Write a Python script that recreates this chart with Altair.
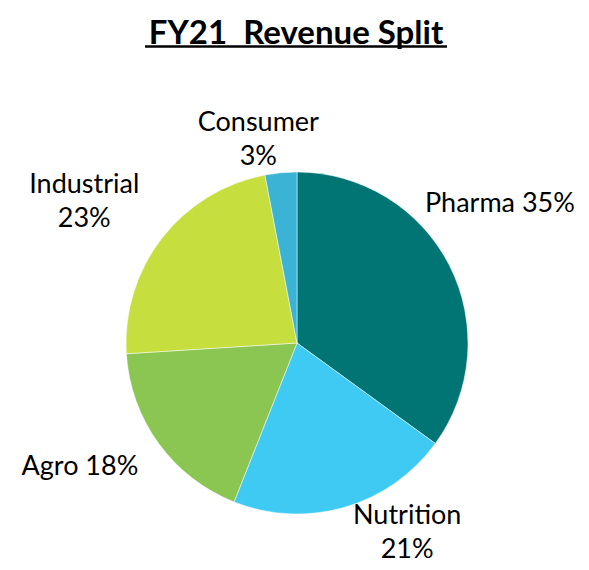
import altair as alt
import pandas as pd

categories = ["Pharma", "Nutrition", "Agro", "Industrial", "Consumer"]
shares = [35, 21, 18, 23, 3]
label_texts = ["Pharma 35%", "Nutrition\n21%", "Agro 18%", "Industrial\n23%", "Consumer\n3%"]
colors = ["#007574", "#3ECAF2", "#8BC653", "#C6DF3F", "#3AB3D4"]

df = pd.DataFrame({
    "category": categories,
    "share": shares,
    "label": label_texts,
    "order": list(range(len(categories))),
})

CX, CY, R = 289, 335, 171
theta_scale = alt.Scale(domain=[0, 100])

pie = alt.Chart(df).mark_arc(outerRadius=R, stroke="white", strokeWidth=0.5).encode(
    theta=alt.Theta("share:Q", stack=True, scale=theta_scale),
    order=alt.Order("order:Q"),
    x=alt.value(CX), y=alt.value(CY),
    color=alt.Color("category:N", scale=alt.Scale(domain=categories, range=colors), legend=None),
)

offsets = {
    "Pharma": (-2, -35),
    "Nutrition": (46, -48),
    "Agro": (-31, -11),
    "Industrial": (-31, -17),
    "Consumer": (-17, 9),
}

label_base = alt.Chart(df).transform_window(
    cum="sum(share)", sort=[alt.SortField("order", order="ascending")]
).transform_calculate(mid="datum.cum - datum.share / 2")

label_layers = []
for cat in categories:
    dx, dy = offsets[cat]
    label_layers.append(
        label_base.mark_text(
            radius=230, dx=dx, dy=dy, fontSize=27, font="Lato",
            lineBreak="\n", baseline="middle", align="center", color="#000000",
            lineHeight=34,
        ).encode(
            theta=alt.Theta("mid:Q", scale=theta_scale),
            x=alt.value(CX), y=alt.value(CY),
            text="label:N",
        ).transform_filter(alt.datum.category == cat)
    )

title_df = pd.DataFrame({"t": ["FY21\u00a0\u00a0Revenue Split"]})
title = alt.Chart(title_df).mark_text(
    fontSize=33, fontWeight="bold", font="Lato", align="center", baseline="alphabetic", color="#000000"
).encode(x=alt.value(288), y=alt.value(36), text="t:N")

underline = alt.Chart(title_df).mark_rule(color="#000000", strokeWidth=2.5).encode(
    x=alt.value(137), x2=alt.value(439), y=alt.value(38.5)
)

chart = alt.layer(pie, *label_layers, title, underline).properties(
    width=573, height=554, padding=0, autosize=alt.AutoSizeParams(type="none")
).configure_view(stroke=None)

chart.save("out.html", embed_options={"renderer": "svg", "actions": False})
